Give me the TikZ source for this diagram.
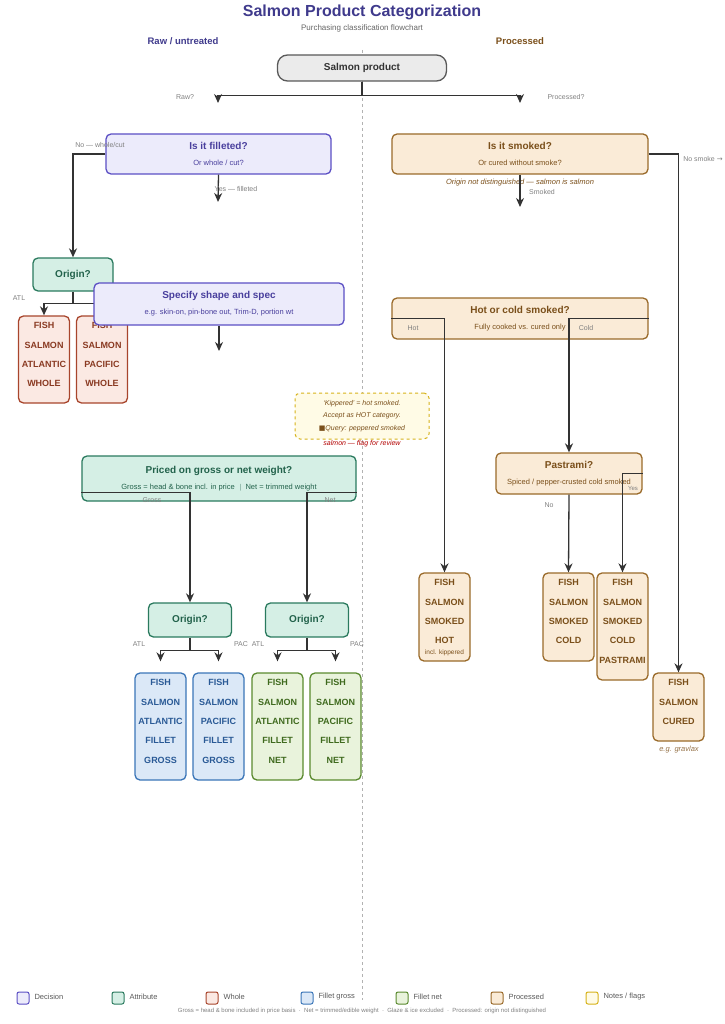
\documentclass[tikz,border=0pt]{standalone}
\usepackage{fontspec}
\setmainfont{Liberation Sans}
\usetikzlibrary{arrows.meta,positioning}
\definecolor{ink}{HTML}{3F3A8C}
\definecolor{decF}{HTML}{ECEBFB}\definecolor{decD}{HTML}{5B4FC4}
\definecolor{attF}{HTML}{D5EFE5}\definecolor{attD}{HTML}{2A7A5E}
\definecolor{whF}{HTML}{FBE9E3}\definecolor{whD}{HTML}{A8452C}\definecolor{whT}{HTML}{8A3A22}
\definecolor{fgF}{HTML}{DBE8F7}\definecolor{fgD}{HTML}{3A75B8}\definecolor{fgT}{HTML}{2A5A96}
\definecolor{fnF}{HTML}{E9F3DC}\definecolor{fnD}{HTML}{5A8A2E}\definecolor{fnT}{HTML}{3F6A1E}
\definecolor{prF}{HTML}{FAEBD7}\definecolor{prD}{HTML}{9A6A2A}\definecolor{prT}{HTML}{7A4F1A}
\definecolor{ntF}{HTML}{FFFBE6}\definecolor{ntD}{HTML}{D6B21A}
\tikzset{
  box/.style={draw, rounded corners=5pt, line width=1.3pt, align=center, inner sep=0pt},
  res/.style={box, minimum width=51pt},
  restxt/.style={align=center, inner sep=0pt, anchor=north, font=\bfseries\fontsize{9}{19.3}\selectfont},
  lbl/.style={font=\fontsize{7}{8}\selectfont, text=gray},
  link/.style={draw=black!80, line width=1.3pt},
  arr/.style={link, -{Stealth[length=9pt,width=8pt]}},
}
\newcommand{\tsub}[2]{{\bfseries\fontsize{10}{12}\selectfont #1}\\[4pt]{\fontsize{7.5}{9}\selectfont #2}}
\begin{document}
\begin{tikzpicture}[x=1pt,y=-1pt]
\useasboundingbox (0,0) rectangle (724,1024);
% titles
\node[font=\bfseries\fontsize{16}{19}\selectfont, text=ink] (title) at (362,12) {Salmon Product Categorization};
\node[text=black!60, font=\fontsize{8}{9}\selectfont] (subtitle) at (362,28) {Purchasing classification flowchart};
\node[font=\bfseries\fontsize{9.5}{11}\selectfont, text=ink] (rawh) at (183,41) {Raw / untreated};
\node[font=\bfseries\fontsize{9.5}{11}\selectfont, text=prT] (proch) at (520,41) {Processed};
\draw[black!30, dashed, line width=0.8pt] (362,50) -- (362,1000);

% root
\node[box, fill=black!8, draw=black!65, minimum width=169pt, minimum height=26pt, rounded corners=10pt,
  font=\bfseries\fontsize{10}{12}\selectfont, text=black!80] (root) at (362,68) {Salmon product};
\coordinate (rawE) at (218,103);
\coordinate (procE) at (520,103);
\draw[link] (root.south) -- ++(0,14) coordinate (split);
\draw[arr] (split) -| (rawE);
\draw[arr] (split) -| (procE);
\node[lbl] at (185,97) {Raw?};
\node[lbl] at (566,97) {Processed?};

%%%%%%%% raw side
\node[box, fill=decF, draw=decD, text=decD!80!black, minimum width=225pt, minimum height=40pt] (fil) at (218.5,154) {\tsub{Is it filleted?}{Or whole / cut?}};
\node[box, fill=attF, draw=attD, text=attD!80!black, minimum width=80pt, minimum height=33pt,
  font=\bfseries\fontsize{10}{12}\selectfont] (ori1) at (73,274.5) {Origin?};
\draw[arr] (fil.west) -| (ori1.north);
\node[lbl] at (100,145) {No — whole/cut};
\coordinate (yesE) at (218,202);
\draw[arr] (fil.south) -- (yesE);
\node[lbl] at (236,189) {Yes — filleted};

\node[res, fill=whF, draw=whD, minimum height=87pt] (w1) at (44,359.5) {};
\node[restxt, text=whT] (w1t) at ([yshift=-7pt]w1.north) {FISH\\SALMON\\ATLANTIC\\WHOLE};
\node[res, fill=whF, draw=whD, minimum height=87pt] (w2) at (102,359.5) {};
\node[restxt, text=whT] (w2t) at ([yshift=-7pt]w2.north) {FISH\\SALMON\\PACIFIC\\WHOLE};
\draw[link] (ori1.south) -- ++(0,12) coordinate (o1s);
\draw[arr] (o1s) -| (w1.north);
\draw[arr] (o1s) -| (w2.north);
\node[lbl] at (19,298) {ATL};

\node[box, fill=decF, draw=decD, text=decD!80!black, minimum width=250pt, minimum height=42pt] (spec) at (219,304) {\tsub{Specify shape and spec}{e.g. skin-on, pin-bone out, Trim-D, portion wt}};
\coordinate (specE) at (219,351);
\draw[arr] (spec.south) -- (specE);

% note
\node[box, dashed, fill=ntF, draw=ntD, minimum width=134pt, minimum height=46pt, line width=1pt,
  font=\itshape\fontsize{7}{12.5}\selectfont, text=prT] (note) at (362,416)
  {`Kippered' = hot smoked.\\Accept as HOT category.\\{\fontspec{DejaVu Sans}\upshape■}Query: peppered smoked};
\node[font=\itshape\fontsize{7}{8}\selectfont, text=red!70!black] (flag) at (362,444) {salmon — flag for review};

% priced
\node[box, fill=attF, draw=attD, text=attD!80!black, minimum width=274pt, minimum height=45pt] (price) at (219,478.5) {\tsub{Priced on gross or net weight?}{Gross = head \& bone incl. in price \ $|$ \ Net = trimmed weight}};
\node[box, fill=attF, draw=attD, text=attD!80!black, minimum width=83pt, minimum height=34pt,
  font=\bfseries\fontsize{10}{12}\selectfont] (ori2) at (190,620) {Origin?};
\node[box, fill=attF, draw=attD, text=attD!80!black, minimum width=83pt, minimum height=34pt,
  font=\bfseries\fontsize{10}{12}\selectfont] (ori3) at (307,620) {Origin?};
\draw[arr] ([yshift=-14pt]price.west) -| (ori2.north);
\draw[arr] ([yshift=-14pt]price.east) -| (ori3.north);
\node[lbl] at (152,500) {Gross};
\node[lbl] at (330,500) {Net};

\node[res, fill=fgF, draw=fgD, minimum height=107pt] (g1) at (160.5,726.5) {};
\node[restxt, text=fgT] (g1t) at ([yshift=-7pt]g1.north) {FISH\\SALMON\\ATLANTIC\\FILLET\\GROSS};
\node[res, fill=fgF, draw=fgD, minimum height=107pt] (g2) at (218.5,726.5) {};
\node[restxt, text=fgT] (g2t) at ([yshift=-7pt]g2.north) {FISH\\SALMON\\PACIFIC\\FILLET\\GROSS};
\node[res, fill=fnF, draw=fnD, minimum height=107pt] (n1) at (277.5,726.5) {};
\node[restxt, text=fnT] (n1t) at ([yshift=-7pt]n1.north) {FISH\\SALMON\\ATLANTIC\\FILLET\\NET};
\node[res, fill=fnF, draw=fnD, minimum height=107pt] (n2) at (335.5,726.5) {};
\node[restxt, text=fnT] (n2t) at ([yshift=-7pt]n2.north) {FISH\\SALMON\\PACIFIC\\FILLET\\NET};
\draw[link] (ori2.south) -- ++(0,13) coordinate (o2s);
\draw[arr] (o2s) -| ([yshift=11pt]g1.north);
\draw[arr] (o2s) -| ([yshift=11pt]g2.north);
\draw[link] (ori3.south) -- ++(0,13) coordinate (o3s);
\draw[arr] (o3s) -| ([yshift=11pt]n1.north);
\draw[arr] (o3s) -| ([yshift=11pt]n2.north);
\node[lbl] at (139,644) {ATL};
\node[lbl] at (241,644) {PAC};
\node[lbl] at (258,644) {ATL};
\node[lbl] at (357,644) {PAC};

%%%%%%%% processed side
\node[box, fill=prF, draw=prD, text=prT, minimum width=256pt, minimum height=40pt] (smk) at (520,154) {\tsub{Is it smoked?}{Or cured without smoke?}};
\node[font=\itshape\fontsize{7.5}{9}\selectfont, text=prT] (orig) at (520,183) {Origin not distinguished — salmon is salmon};
\node[lbl] at (542,192) {Smoked};
\coordinate (smkE) at (520,207);
\draw[arr] (smk.south) -- (smkE);
\node[lbl] at (703,159) {No smoke {\fontspec{DejaVu Sans}→}};

\node[box, fill=prF, draw=prD, text=prT, minimum width=256pt, minimum height=41pt] (hc) at (520,318.5) {\tsub{Hot or cold smoked?}{Fully cooked vs. cured only}};
\node[lbl] at (413,328) {Hot};
\node[lbl] at (586,328) {Cold};

\node[box, fill=prF, draw=prD, text=prT, minimum width=146pt, minimum height=41pt] (pas) at (569,473.5) {\tsub{Pastrami?}{Spiced / pepper-crusted cold smoked}};
\node[lbl, font=\fontsize{6}{7}\selectfont] at (633,488) {Yes};
\node[lbl] at (549,505) {No};

\node[res, fill=prF, draw=prD, minimum height=88pt] (hot) at (444.5,617) {};
\node[restxt, text=prT] (hott) at ([yshift=-7pt]hot.north) {FISH\\SALMON\\SMOKED\\HOT\\[-9pt]{\mdseries\fontsize{6.5}{7}\selectfont incl. kippered}};
\node[res, fill=prF, draw=prD, minimum height=88pt] (cold) at (568.5,617) {};
\node[restxt, text=prT] (coldt) at ([yshift=-7pt]cold.north) {FISH\\SALMON\\SMOKED\\COLD};
\node[res, fill=prF, draw=prD, minimum height=107pt] (pres) at (622.5,626.5) {};
\node[restxt, text=prT] (prest) at ([yshift=-7pt]pres.north) {FISH\\SALMON\\SMOKED\\COLD\\PASTRAMI};
\node[res, fill=prF, draw=prD, minimum height=68pt] (cur) at (678.5,707) {};
\node[restxt, text=prT] (curt) at ([yshift=-7pt]cur.north) {FISH\\SALMON\\CURED};
\node[font=\itshape\fontsize{7.5}{9}\selectfont, text=prT!80] at (679,750) {e.g. gravlax};

\draw[arr] (smk.east) -| (cur.north);
\draw[arr] (hc.west) -| (hot.north);
\draw[arr] (hc.east) -| (pas.north);
\draw[arr] (pas.east) -| (pres.north);
\draw[arr] (pas.south) -- (cold.north);

% legend
\foreach \x/\f/\d/\t in {17/decF/decD/Decision, 112/attF/attD/Attribute, 206/whF/whD/Whole, 301/fgF/fgD/Fillet gross, 396/fnF/fnD/Fillet net, 491/prF/prD/Processed, 586/ntF/ntD/{Notes / flags}}{
  \draw[fill=\f, draw=\d, line width=1pt, rounded corners=2pt] (\x,992) rectangle ++(12,12);
  \node[anchor=west, font=\fontsize{7.5}{9}\selectfont, text=black!65] at (\x+14,997) {\t};
}
\node[font=\fontsize{6}{7}\selectfont, text=black!50] (foot) at (362,1011) {Gross = head \& bone included in price basis \ · \ Net = trimmed/edible weight \ · \ Glaze \& ice excluded \ · \ Processed: origin not distinguished};
\end{tikzpicture}
\end{document}
